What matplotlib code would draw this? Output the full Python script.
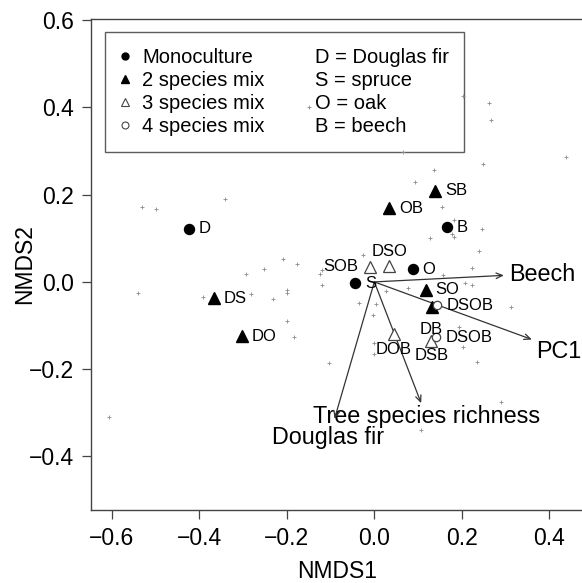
import matplotlib
matplotlib.use('Agg')
import matplotlib.pyplot as plt
from matplotlib.lines import Line2D

plt.rcParams['font.family'] = ['Liberation Sans', 'DejaVu Sans']

# site scores (gray crosses)
plus_x = [-0.530, -0.500, -0.342, -0.540, -0.392, -0.293, -0.252, -0.209, -0.176, -0.282,
          -0.232, -0.200, -0.200, -0.200, -0.183, -0.125, -0.120, -0.120, -0.103, -0.606,
          -0.036, -0.027, 0.004, -0.002, 0.026, 0.076, 0.158, 0.208, 0.224, 0.223,
          0.239, 0.245, 0.127, 0.181, 0.177, 0.183, 0.154, 0.092, 0.137, 0.066,
          0.249, 0.438, 0.203, 0.263, 0.266, -0.149, 0.312, 0.194, 0.202, 0.234,
          -0.001, -0.001, 0.290, 0.107, 0.150]
plus_y = [0.172, 0.167, 0.190, -0.026, -0.035, 0.018, 0.029, 0.053, 0.042, -0.028,
          -0.039, -0.018, -0.026, -0.089, -0.126, 0.019, 0.028, -0.006, -0.185, -0.309,
          -0.049, 0.061, -0.051, -0.075, -0.021, -0.015, 0.016, -0.002, -0.007, 0.032,
          0.072, 0.122, 0.101, 0.142, 0.109, 0.103, 0.172, 0.228, 0.257, 0.299,
          0.271, 0.287, 0.426, 0.411, 0.372, 0.401, -0.057, -0.104, -0.149, -0.183,
          -0.139, -0.166, -0.275, -0.339, -0.055]

# stand type centroids
mono_x = [-0.423, -0.044, 0.165, 0.088]
mono_y = [0.122, -0.003, 0.125, 0.029]
mono_lab = ['D', 'S', 'B', 'O']

two_x = [-0.367, -0.303, 0.139, 0.034, 0.117, 0.131]
two_y = [-0.037, -0.125, 0.209, 0.169, -0.018, -0.057]
two_lab = ['DS', 'DO', 'SB', 'OB', 'SO', 'DB']

three_x = [-0.010, 0.034, 0.045, 0.130]
three_y = [0.035, 0.037, -0.119, -0.136]
three_lab = ['SOB', 'DSO', 'DOB', 'DSB']

four_x = [0.144, 0.141]
four_y = [-0.054, -0.127]
four_lab = ['DSOB', 'DSOB']

# fitted vectors
env_names = ['Beech', 'PC1', 'Tree species richness', 'Douglas fir']
env_x = [0.296, 0.360, 0.107, -0.091]
env_y = [0.015, -0.132, -0.278, -0.314]
env_lab_x = [0.384, 0.421, 0.119, -0.105]
env_lab_y = [0.003, -0.175, -0.324, -0.372]

# label offsets in points (dx, dy, ha)
R = (7, 0, 'left')
mono_off = [R, R, R, R]
two_off = [R, R, R, R, R, (0, -16.5, 'center')]
three_off = [(-8.4, 0, 'right'), (0, 10.6, 'center'), (0, -11.5, 'center'), (0, -10, 'center')]
four_off = [R, R]


def label_points(ax, xs, ys, labs, offs):
    for x, y, lab, (dx, dy, ha) in zip(xs, ys, labs, offs):
        ax.annotate(lab, (x, y), xytext=(dx, dy), textcoords='offset points',
                    ha=ha, va='center', fontsize=12)


fig = plt.figure(figsize=(5.82, 5.83), dpi=100)
ax = fig.add_axes([0.15636, 0.12521, 0.84622, 0.84305])

ax.plot(plus_x, plus_y, '+', color='#8c8c8c', markersize=3.5, mew=0.6, zorder=1)

for x, y, lx, ly, name in zip(env_x, env_y, env_lab_x, env_lab_y, env_names):
    ax.annotate('', xy=(x, y), xytext=(0, 0),
                arrowprops=dict(arrowstyle='->,head_length=0.45,head_width=0.2',
                                color='#333333', lw=0.9, shrinkA=0, shrinkB=0))
    ax.text(lx, ly, name, ha='center', va='baseline', fontsize=16.8)

ax.plot(mono_x, mono_y, 'o', color='black', markersize=7.2, zorder=3)
ax.plot(two_x, two_y, '^', color='black', markersize=8.5, zorder=3)
ax.plot(three_x, three_y, '^', mfc='white', mec='#444444', mew=0.9, markersize=8, zorder=3)
ax.plot(four_x, four_y, 'o', mfc='white', mec='#444444', mew=0.9, markersize=6, zorder=3)

label_points(ax, mono_x, mono_y, mono_lab, mono_off)
label_points(ax, two_x, two_y, two_lab, two_off)
label_points(ax, three_x, three_y, three_lab, three_off)
label_points(ax, four_x, four_y, four_lab, four_off)

ax.set_xlim(-0.6475, 0.478)
ax.set_ylim(-0.523, 0.604)
ax.set_xticks([-0.6, -0.4, -0.2, 0.0, 0.2, 0.4])
ax.set_yticks([-0.4, -0.2, 0.0, 0.2, 0.4, 0.6])
ax.set_xticklabels(['\u22120.6', '\u22120.4', '\u22120.2', '0.0', '0.2', '0.4'])
ax.set_yticklabels(['\u22120.4', '\u22120.2', '0.0', '0.2', '0.4', '0.6'])
ax.tick_params(direction='out', length=6.5, width=0.9, color='#444444', labelsize=16.5)
ax.tick_params(axis='x', pad=5.5)
ax.tick_params(axis='y', pad=6)
for sp in ax.spines.values():
    sp.set_color('#444444')
    sp.set_linewidth(1.0)

ax.set_xlabel('NMDS1', fontsize=16.5)
ax.set_ylabel('NMDS2', fontsize=16.5)
ax.xaxis.set_label_coords(0.5, -0.102)
ax.yaxis.set_label_coords(-0.112, 0.5)

handles = [Line2D([], [], ls='none', marker='o', color='black', markersize=5),
           Line2D([], [], ls='none', marker='^', color='black', markersize=6),
           Line2D([], [], ls='none', marker='^', mfc='white', mec='#444444', mew=0.8, markersize=6),
           Line2D([], [], ls='none', marker='o', mfc='white', mec='#444444', mew=0.8, markersize=5)]
blank = [Line2D([], [], ls='none') for _ in range(4)]
labels = ['Monoculture', '2 species mix', '3 species mix', '4 species mix',
          'D = Douglas fir', 'S = spruce', 'O = oak', 'B = beech']
leg = ax.legend(handles + blank, labels, ncol=2, loc='upper left',
                bbox_to_anchor=(0.0285, 0.972), borderaxespad=0, fontsize=14.5,
                frameon=True, fancybox=False, edgecolor='#333333', facecolor='none',
                handlelength=0.43, handletextpad=0.62, columnspacing=1.44,
                borderpad=0.78, labelspacing=0.2)
leg.get_frame().set_linewidth(1.0)
leg.set_zorder(0)

fig.savefig('out.png', dpi=100)
